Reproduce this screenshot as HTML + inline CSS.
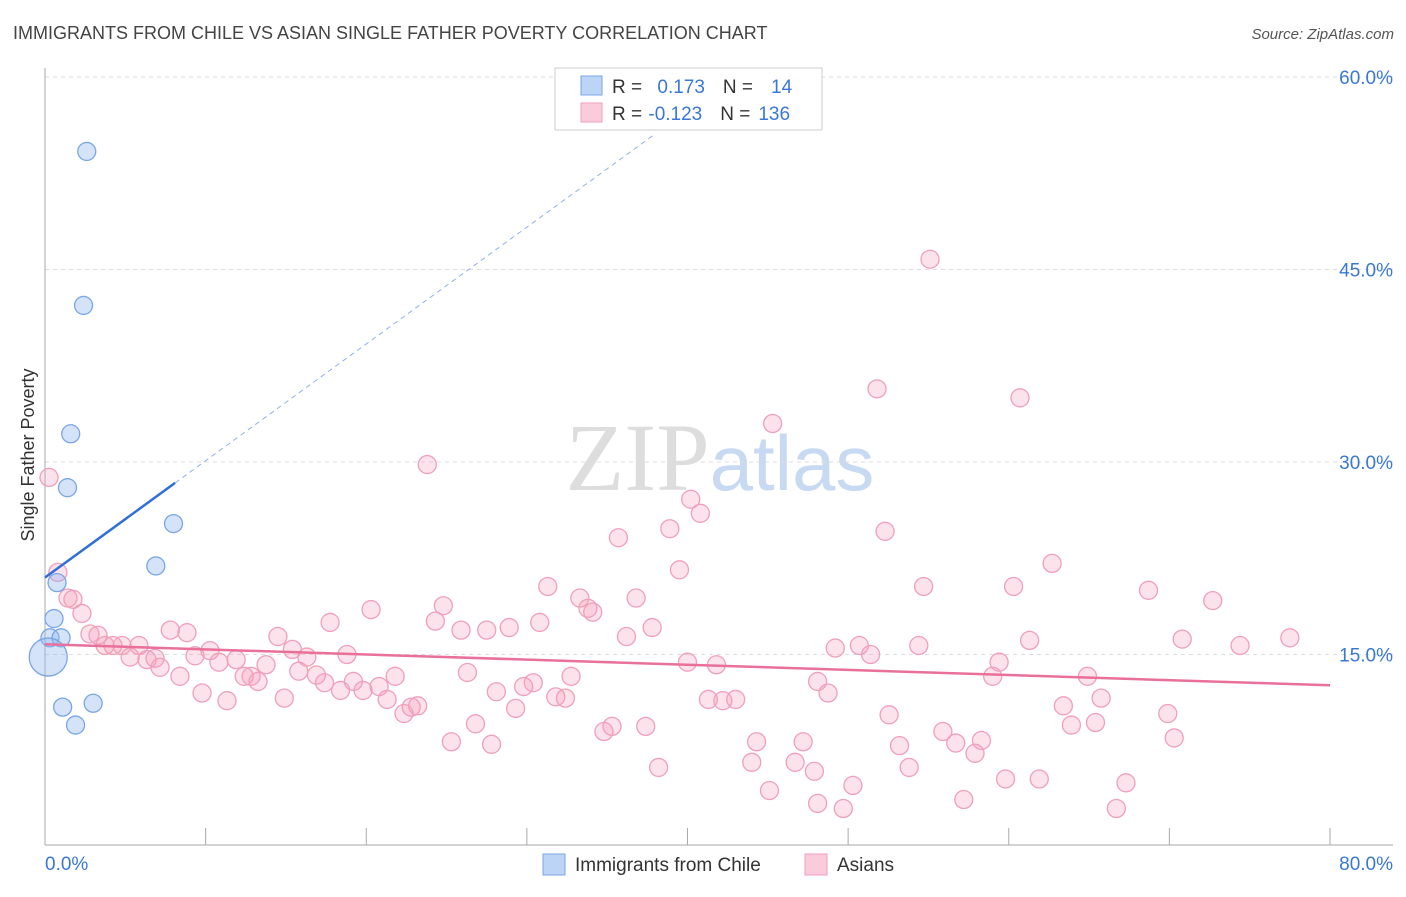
<!DOCTYPE html>
<html><head><meta charset="utf-8"><style>
body{margin:0;background:#fff;font-family:"Liberation Sans",sans-serif}
svg text{font-family:"Liberation Sans",sans-serif}
</style></head><body>
<svg id="chart" width="1406" height="892" xmlns="http://www.w3.org/2000/svg">
<text x="13" y="39" font-size="18" fill="#444">IMMIGRANTS FROM CHILE VS ASIAN SINGLE FATHER POVERTY CORRELATION CHART</text>
<text x="1394" y="39" font-size="15" fill="#555" text-anchor="end" font-style="italic">Source: ZipAtlas.com</text>
<text x="720" y="490" font-size="96" text-anchor="middle"><tspan fill="#ddd" font-family="Liberation Serif">ZIP</tspan><tspan fill="#c7daf2" font-size="78">atlas</tspan></text>
<g id="grid"></g><g id="axes"></g><g id="pts"></g><g id="trend"></g>
<text transform="translate(34,455) rotate(-90)" font-size="18" fill="#333" text-anchor="middle">Single Father Poverty</text>
<g>
<rect x="555" y="68" width="267" height="62" fill="#fff" stroke="#ccc"/>
<rect x="581" y="76" width="21" height="19" fill="#bcd4f5" stroke="#7aa6e6"/>
<rect x="581" y="103" width="21" height="19" fill="#fbcadb" stroke="#f0a0b8"/>
<text x="612" y="93" font-size="19" fill="#333">R = <tspan fill="#3a78d6" dx="10">0.173</tspan><tspan fill="#333" dx="18">N =</tspan><tspan fill="#3a78d6" dx="18">14</tspan></text>
<text x="612" y="120" font-size="19" fill="#333">R = <tspan fill="#3a78d6" dx="1">-0.123</tspan><tspan fill="#333" dx="18">N =</tspan><tspan fill="#3a78d6" dx="8">136</tspan></text>
</g>
<g>
<rect x="543" y="854" width="22" height="21" fill="#bcd4f5" stroke="#7aa6e6"/>
<text x="575" y="871" font-size="19" fill="#333">Immigrants from Chile</text>
<rect x="805" y="854" width="22" height="21" fill="#fbcadb" stroke="#f0a0b8"/>
<text x="837" y="871" font-size="19" fill="#333">Asians</text>
</g>
</svg>
<script>
const blueX=[2.6,2.4,1.6,1.4,8.0,6.9,0.75,0.56,0.31,1.0,0.2,1.1,3.0,1.9];
const blueY=[54.2,42.2,32.2,28.0,25.2,21.9,20.6,17.8,16.3,16.3,14.8,10.9,11.2,9.5];
const blueR=[9,9,9,9,9,9,9,9,9,9,19,9,9,9];
const pinkX=[0.25,0.8,1.43,1.74,2.3,2.8,3.3,3.74,4.23,4.8,5.3,5.85,6.35,6.85,7.16,7.8,8.4,8.84,9.34,9.78,10.27,10.83,11.33,11.9,12.4,12.83,13.26,13.76,14.5,14.9,15.4,15.8,16.3,16.9,17.4,17.75,18.4,18.8,19.2,19.8,20.3,20.8,21.3,21.8,22.35,22.8,23.2,23.8,24.3,24.8,25.3,25.9,26.3,26.8,27.5,27.8,28.1,28.9,29.3,29.8,30.4,30.8,31.3,31.8,32.4,32.75,33.3,33.8,34.1,34.8,35.3,35.7,36.2,36.8,37.4,37.8,38.2,38.9,39.5,40.0,40.2,40.8,41.3,41.8,42.2,43.0,44.3,44.0,45.1,45.3,46.7,47.2,47.9,48.1,48.1,48.75,49.2,49.7,50.3,50.7,51.4,51.8,52.3,52.55,53.2,53.8,54.4,54.7,55.1,55.9,56.7,57.2,57.9,58.3,59.0,59.4,59.8,60.3,60.7,61.3,61.9,62.7,63.4,63.9,64.9,65.4,65.75,66.7,67.3,68.7,69.9,70.3,70.8,72.7,74.4,77.5];
const pinkY=[28.8,21.4,19.4,19.3,18.2,16.6,16.5,15.7,15.7,15.7,14.8,15.7,14.6,14.7,14.0,16.9,13.3,16.7,14.9,12.0,15.3,14.4,11.4,14.6,13.3,13.3,12.9,14.2,16.4,11.6,15.4,13.7,14.8,13.4,12.8,17.5,12.2,15.0,12.9,12.2,18.5,12.5,11.5,13.3,10.4,10.9,11.0,29.8,17.6,18.8,8.2,16.9,13.6,9.6,16.9,8.0,12.1,17.1,10.8,12.5,12.8,17.5,20.3,11.7,11.6,13.3,19.4,18.6,18.3,9.0,9.4,24.1,16.4,19.4,9.4,17.1,6.2,24.8,21.6,14.4,27.1,26.0,11.5,14.2,11.4,11.5,8.2,6.6,4.4,33.0,6.6,8.2,5.9,3.4,12.9,12.0,15.5,3.0,4.8,15.7,15.0,35.7,24.6,10.3,7.9,6.2,15.7,20.3,45.8,9.0,8.1,3.7,7.3,8.3,13.3,14.4,5.3,20.3,35.0,16.1,5.3,22.1,11.0,9.5,13.3,9.7,11.6,3.0,5.0,20.0,10.4,8.5,16.2,19.2,15.7,16.3];
const yTicks=[15,30,45,60];
const xTicks=[0,10,20,30,40,50,60,70,80];
const blueTrend=[21.0,0.91]; // intercept, slope
const pinkTrend=[15.8,-0.04];
const NS="http://www.w3.org/2000/svg";
const sx=v=>45+v/80*1285, sy=v=>847-v/15*192.5;
function mk(p,t,a){const e=document.createElementNS(NS,t);for(const k in a)e.setAttribute(k,a[k]);document.getElementById(p).appendChild(e);return e;}
yTicks.forEach(t=>{
 const g=mk('grid','line',{x1:45,x2:1393,y1:sy(t),y2:sy(t),stroke:'#ddd','stroke-dasharray':'4,4'});
 
 
 const l=mk('grid','text',{x:1393,y:sy(t)+7,'font-size':19,fill:'#3a78d6','text-anchor':'end'});
 l.textContent=t.toFixed(1)+'%';
 
 
});
let a=mk('axes','line',{x1:45,x2:45,y1:68,y2:845,stroke:'#aaa'});


a=mk('axes','line',{x1:45,x2:1393,y1:845,y2:845,stroke:'#aaa'});


xTicks.forEach(t=>{
 const e=mk('axes','line',{x1:sx(t),x2:sx(t),y1:828,y2:845,stroke:'#aaa'});
 
 
});
[[0,'start'],[80,'end']].forEach(([t,an])=>{
 const l=mk('axes','text',{x:t==0?45:1393,y:870,'font-size':19,fill:'#3a78d6','text-anchor':an});
 l.textContent=t.toFixed(1)+'%';
 
 
});
pinkX.forEach((x,i)=>{
 const c=mk('pts','circle',{cx:sx(x),cy:sy(pinkY[i]),r:9,fill:'rgba(245,160,190,0.3)',stroke:'#f0a0b8','stroke-width':1.3});
 
 
});
blueX.forEach((x,i)=>{
 const c=mk('pts','circle',{cx:sx(x),cy:sy(blueY[i]),r:blueR[i],fill:'rgba(150,185,240,0.4)',stroke:'#7aa6e6','stroke-width':1.3});
 
 
});
let t=mk('trend','line',{x1:sx(0),y1:sy(blueTrend[0]),x2:sx(8.1),y2:sy(blueTrend[0]+blueTrend[1]*8.1),stroke:'#2f6fd6','stroke-width':2.5});


t=mk('trend','line',{x1:sx(8.1),y1:sy(blueTrend[0]+blueTrend[1]*8.1),x2:sx(38),y2:sy(blueTrend[0]+blueTrend[1]*38),stroke:'#8fb2e8','stroke-width':1,'stroke-dasharray':'5,4'});


t=mk('trend','line',{x1:sx(0),y1:sy(pinkTrend[0]),x2:sx(80),y2:sy(pinkTrend[0]+pinkTrend[1]*80),stroke:'#e8709a','stroke-width':2.5});


</script>
</body></html>
